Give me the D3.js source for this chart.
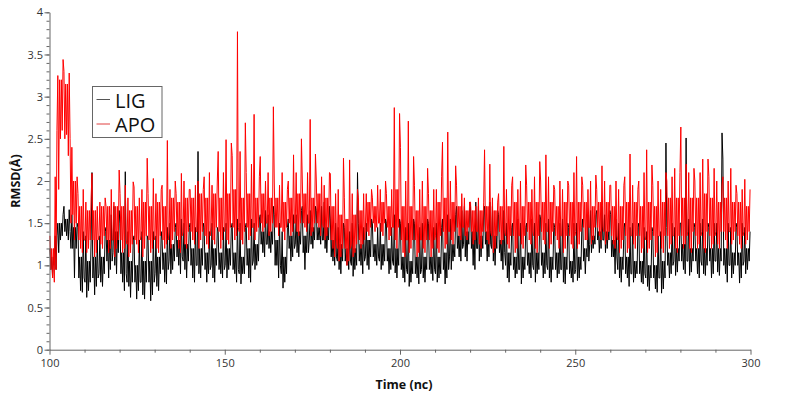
<!DOCTYPE html>
<html>
<head>
<meta charset="utf-8">
<script src="https://cdn.jsdelivr.net/npm/d3@7"></script>
<style>
html,body{margin:0;padding:0;background:#fff;}
svg{display:block;font-family:"Open Sans",sans-serif;}
.axis path,.axis line{stroke:#666;}
.axis text{fill:#333;font-size:11px;font-family:"Open Sans",sans-serif;}
</style>
</head>
<body>
<div id="chart"></div>
<script>
// per ns from 100 ns: upper and lower excursion
const tStart=100;
const apoHi=[
1.35,2.05,3.25,3.44,3.3,3.28,2.4,2.05,1.85,1.9,
1.75,1.8,2.09,1.7,1.75,1.8,1.7,1.9,1.75,2.13,
1.85,1.95,1.8,1.99,1.93,1.8,1.9,2.27,1.85,2.03,
1.85,1.9,1.95,2.48,1.9,2.0,1.85,2.09,2.0,1.9,
1.9,1.95,2.0,1.9,2.05,2.1,1.95,2.0,2.35,2.1,
2.49,2.45,2.3,3.77,2.35,2.69,2.1,2.2,2.79,2.05,
2.29,2.0,2.1,2.88,2.0,1.95,2.1,1.9,2.0,2.31,
2.1,2.5,2.0,2.1,2.73,2.32,2.0,2.05,1.95,2.1,
2.09,1.85,1.9,2.27,1.8,2.25,1.85,1.9,1.8,1.85,
1.85,1.9,1.8,1.95,1.9,2.0,1.85,1.9,2.87,2.8,
2.4,2.0,2.71,2.29,1.95,1.9,2.0,2.15,1.85,1.9,
1.9,2.05,2.46,2.58,2.0,2.18,1.95,1.85,1.8,1.75,
1.75,1.7,1.8,1.75,2.37,2.2,1.8,1.75,1.85,2.41,
1.9,1.95,2.05,1.9,2.0,2.19,1.95,1.9,2.05,2.23,
2.0,2.31,2.05,1.95,1.9,2.0,1.9,2.0,1.95,2.1,
2.29,2.05,1.95,1.9,2.0,2.07,1.9,2.18,2.0,1.95,
1.95,2.0,1.9,1.95,2.05,2.32,1.95,1.9,2.0,2.1,
2.37,2.19,1.95,2.0,1.9,2.1,2.0,2.05,2.15,2.1,
2.64,2.2,2.1,2.15,2.0,2.1,2.26,2.26,2.05,2.15,
2.0,1.95,2.05,2.0,2.15,1.95,1.85,1.9,2.02,1.9
];
const apoLo=[
0.85,0.8,1.9,2.5,2.55,2.3,1.6,1.3,1.2,1.15,
1.15,1.2,1.1,1.15,1.25,1.2,1.15,1.2,1.1,1.2,
1.15,1.2,1.1,1.15,1.25,1.15,1.1,1.2,1.15,1.2,
1.2,1.15,1.2,1.25,1.2,1.3,1.2,1.15,1.25,1.2,
1.3,1.25,1.2,1.3,1.25,1.2,1.3,1.25,1.2,1.3,
1.3,1.25,1.3,1.35,1.3,1.25,1.3,1.35,1.3,1.4,
1.4,1.45,1.35,1.4,1.45,1.35,1.4,1.3,1.35,1.4,
1.4,1.35,1.45,1.4,1.35,1.4,1.45,1.35,1.3,1.35,
1.2,1.1,1.05,1.1,1.0,1.05,1.1,1.15,1.2,1.25,
1.4,1.35,1.4,1.45,1.4,1.35,1.3,1.35,1.3,1.2,
1.15,1.1,1.15,1.2,1.1,1.15,1.2,1.15,1.1,1.2,
1.2,1.15,1.2,1.25,1.3,1.25,1.35,1.3,1.35,1.3,
1.25,1.3,1.25,1.2,1.3,1.25,1.15,1.2,1.25,1.3,
1.25,1.2,1.15,1.2,1.25,1.2,1.3,1.25,1.2,1.15,
1.3,1.25,1.2,1.25,1.3,1.2,1.15,1.2,1.25,1.2,
1.2,1.25,1.3,1.3,1.25,1.3,1.35,1.3,1.25,1.3,
1.25,1.2,1.15,1.2,1.15,1.2,1.25,1.2,1.15,1.2,
1.15,1.2,1.1,1.15,1.2,1.15,1.2,1.25,1.2,1.15,
1.2,1.25,1.2,1.15,1.2,1.25,1.2,1.15,1.2,1.25,
1.25,1.2,1.3,1.2,1.25,1.3,1.25,1.2,1.25,1.3
];
const ligHi=[
1.2,1.35,1.5,1.6,1.7,1.66,1.6,1.5,1.45,1.4,
1.35,1.3,2.1,1.3,1.35,1.4,1.45,1.6,1.7,1.65,
1.5,2.11,1.4,1.3,1.35,1.3,1.4,1.35,1.3,1.4,
1.35,1.4,1.3,1.45,1.5,1.45,1.5,1.55,1.5,1.45,
1.5,1.45,2.35,1.5,1.45,1.4,1.5,1.45,1.4,1.45,
1.5,1.45,1.5,1.55,1.5,1.45,1.5,1.55,1.5,1.55,
1.6,1.65,1.6,1.7,1.6,1.5,1.4,1.45,1.55,1.6,
1.6,1.65,1.7,1.6,1.65,1.7,1.65,1.7,1.75,1.7,
1.55,1.5,1.45,1.5,1.45,1.4,1.5,2.1,1.5,1.45,
1.5,1.55,1.5,1.45,1.5,1.55,1.5,1.45,1.6,1.55,
1.5,1.45,1.5,1.55,1.5,1.45,1.5,1.55,1.5,1.45,
1.5,1.45,1.55,1.6,1.55,1.6,1.7,1.65,1.7,1.75,
1.7,1.75,1.7,1.65,1.7,1.75,1.7,1.65,1.6,1.65,
1.5,1.45,1.5,1.55,1.5,1.45,1.5,1.55,1.5,1.6,
1.55,1.5,1.55,1.5,1.45,1.5,1.55,1.5,1.45,1.5,
1.5,1.45,1.55,1.6,1.65,1.6,1.65,1.7,1.6,1.65,
1.6,1.55,1.5,1.45,1.5,1.45,1.5,1.45,1.5,1.45,
1.4,1.45,1.4,1.35,1.4,2.45,1.45,1.5,1.45,1.5,
1.5,2.51,1.55,1.5,1.45,1.5,1.55,1.5,1.45,1.5,
1.5,2.57,2.26,1.5,1.45,1.5,1.45,1.5,1.45,1.4
];
const ligLo=[
0.85,1.0,1.15,1.3,1.35,1.3,1.2,0.85,0.7,0.68,
0.62,0.7,0.65,0.75,0.8,0.75,0.85,0.95,1.0,0.9,
0.8,0.7,0.75,0.62,0.6,0.7,0.65,0.6,0.58,0.65,
0.75,0.7,0.8,0.78,0.9,0.95,1.0,0.9,0.95,0.85,
0.85,0.8,0.9,0.85,0.8,0.9,0.85,0.8,0.9,0.85,
0.85,0.95,0.9,0.8,0.78,0.9,0.85,0.8,0.95,1.0,
1.15,1.1,1.2,1.15,1.0,0.85,0.73,0.8,1.05,1.1,
1.15,1.1,0.95,1.15,1.25,1.2,1.3,1.25,1.2,1.15,
1.05,1.0,0.95,0.9,1.0,0.95,0.87,0.95,1.0,0.9,
1.0,0.95,1.05,1.0,0.95,1.0,0.9,0.95,0.91,0.85,
0.85,0.8,0.75,0.8,0.85,0.78,0.85,0.8,0.9,0.82,
0.8,0.85,0.78,0.85,0.95,1.05,1.1,1.05,1.1,1.05,
1.0,0.95,1.05,1.1,1.05,1.1,1.05,1.0,1.05,0.95,
0.85,0.8,0.85,0.9,0.78,0.85,0.9,0.85,0.8,0.9,
0.85,0.9,0.85,0.8,0.85,0.9,0.8,0.78,0.85,0.8,
0.82,0.85,0.9,1.1,1.15,1.2,1.15,1.2,1.15,1.2,
1.1,0.9,0.85,0.8,0.85,0.75,0.8,0.85,0.8,0.78,
0.75,0.7,0.72,0.68,0.67,0.72,0.85,0.9,0.88,0.92,
0.95,0.9,0.88,0.92,0.9,0.85,0.9,0.88,0.85,0.9,
0.92,0.88,0.9,0.8,0.85,0.9,0.79,0.85,0.9,0.95
];
// per 2 ns: top and bottom of the dense core of each trace
const apoCoreHi=[
1.2,3.2,3.15,2.0,1.7, 1.65,1.65,1.7,1.7,1.7,
1.7,1.65,1.7,1.75,1.7, 1.75,1.7,1.8,1.75,1.8,
1.8,1.85,1.8,1.85,1.8, 1.85,1.9,1.8,1.85,1.8,
1.85,1.8,1.8,1.75,1.8, 1.85,1.85,1.8,1.85,1.8,
1.7,1.6,1.55,1.6,1.65, 1.75,1.7,1.75,1.7,1.9,
1.7,1.7,1.65,1.7,1.65, 1.75,1.8,1.75,1.7,1.65,
1.65,1.65,1.7,1.65,1.7, 1.7,1.75,1.7,1.75,1.75,
1.75,1.75,1.7,1.75,1.75, 1.75,1.75,1.7,1.75,1.75,
1.7,1.7,1.75,1.75,1.7, 1.75,1.7,1.75,1.8,1.8,
1.8,1.8,1.8,1.85,1.8, 1.75,1.8,1.75,1.75,1.7
];
const apoCoreLo=[
0.95,2.6,2.5,1.5,1.3, 1.3,1.3,1.35,1.3,1.3,
1.3,1.25,1.3,1.35,1.3, 1.35,1.3,1.4,1.35,1.4,
1.4,1.4,1.35,1.45,1.4, 1.45,1.45,1.4,1.45,1.45,
1.5,1.5,1.45,1.45,1.5, 1.5,1.5,1.5,1.5,1.45,
1.3,1.2,1.2,1.25,1.3, 1.45,1.5,1.5,1.45,1.45,
1.3,1.3,1.3,1.3,1.3, 1.35,1.4,1.4,1.45,1.45,
1.4,1.4,1.4,1.35,1.4, 1.35,1.35,1.35,1.4,1.35,
1.4,1.4,1.35,1.35,1.35, 1.4,1.45,1.45,1.45,1.4,
1.35,1.3,1.35,1.35,1.35, 1.3,1.35,1.35,1.35,1.35,
1.35,1.4,1.35,1.4,1.35, 1.4,1.4,1.4,1.35,1.4
];
const ligCoreHi=[
1.1,1.5,1.55,1.45,1.1, 1.05,1.1,1.1,1.3,1.4,
1.15,1.05,1.0,1.05,1.05, 1.1,1.15,1.25,1.3,1.25,
1.2,1.2,1.15,1.2,1.15, 1.2,1.15,1.1,1.2,1.25,
1.4,1.4,1.3,1.1,1.35, 1.4,1.35,1.45,1.45,1.45,
1.3,1.25,1.2,1.2,1.25, 1.3,1.25,1.25,1.2,1.2,
1.1,1.05,1.1,1.1,1.1, 1.1,1.15,1.25,1.35,1.4,
1.4,1.35,1.4,1.35,1.3, 1.15,1.1,1.1,1.15,1.15,
1.15,1.1,1.15,1.1,1.05, 1.1,1.2,1.35,1.4,1.4,
1.3,1.1,1.1,1.05,1.05, 1.0,1.0,1.05,1.15,1.2,
1.25,1.2,1.2,1.2,1.2, 1.2,1.2,1.15,1.15,1.2
];
const ligCoreLo=[
0.95,1.35,1.4,1.2,0.85, 0.8,0.85,0.9,1.05,1.15,
0.9,0.8,0.8,0.8,0.8, 0.9,0.95,1.05,1.1,1.05,
1.0,1.0,0.95,1.0,0.95, 1.0,0.95,0.9,1.0,1.05,
1.25,1.25,1.0,0.9,1.2, 1.25,1.15,1.3,1.3,1.3,
1.1,1.05,1.05,1.0,1.05, 1.1,1.1,1.05,1.05,1.0,
0.95,0.9,0.9,0.95,0.95, 0.9,0.95,1.1,1.2,1.25,
1.2,1.2,1.25,1.2,1.15, 1.0,0.95,0.95,1.0,0.95,
1.0,0.95,0.95,0.95,0.9, 0.95,1.05,1.25,1.3,1.3,
1.1,0.95,0.9,0.9,0.9, 0.85,0.85,0.85,1.0,1.05,
1.05,1.05,1.05,1.0,1.05, 1.05,1.0,1.0,1.0,1.05
];
const xTicks=[100,150,200,250,300];
const xMinor=[110,120,130,140,160,170,180,190,210,220,230,240,260,270,280,290];
const yTicks=[0,0.5,1,1.5,2,2.5,3,3.5,4];
const yMinor=d3.range(0,41).map(d=>d/10);
const seriesNames=["LIG","APO"];
const seriesColors=["#000000","#ff0000"];
const legendColors=["#555555","#e04040"];

const W=800,H=396;
const svg=d3.select("#chart").append("svg").attr("width",W).attr("height",H);

const x=d3.scaleLinear().domain([100,300]).range([49.5,750.5]);
const y=d3.scaleLinear().domain([0,4]).range([349.7,12.3]);

// four samples per ns; the visiting order of the four read values rotates
const orders=[[0,1,2,3],[2,3,0,1],[1,0,3,2],[3,2,1,0]];
function toPoints(hi,lo,cHi,cLo){
  const pts=[];
  hi.forEach((v,i)=>{
    const k=Math.floor(i/2);
    const vals=[v,cLo[k],cHi[k],lo[i]];
    orders[i%4].forEach((o,j)=>{
      pts.push([tStart+i+0.125+j*0.25,vals[o]]);
    });
  });
  return pts;
}

const line=d3.line().x(d=>x(d[0])).y(d=>y(d[1]));
const series=[
  toPoints(ligHi,ligLo,ligCoreHi,ligCoreLo),
  toPoints(apoHi,apoLo,apoCoreHi,apoCoreLo)
];

svg.selectAll("path.trace").data(series).enter().append("path")
  .attr("class","trace")
  .attr("d",line)
  .attr("fill","none")
  .attr("stroke",(d,i)=>seriesColors[i])
  .attr("stroke-width",1)
  .attr("stroke-linejoin","round");

// axes
svg.append("g").attr("class","axis").attr("transform","translate(0,349.7)")
  .call(d3.axisBottom(x).tickValues(xMinor).tickSize(3).tickFormat(""))
  .call(g=>g.select(".domain").remove());
svg.append("g").attr("class","axis").attr("transform","translate(0,349.7)")
  .call(d3.axisBottom(x).tickValues(xTicks).tickSize(5).tickPadding(5).tickSizeOuter(0).tickFormat(d=>String(d)));

svg.append("g").attr("class","axis").attr("transform","translate(49.5,0)")
  .call(d3.axisLeft(y).tickValues(yMinor).tickSize(3).tickFormat(""))
  .call(g=>g.select(".domain").remove());
svg.append("g").attr("class","axis").attr("transform","translate(49.5,0)")
  .call(d3.axisLeft(y).tickValues(yTicks).tickSize(5).tickPadding(1.5).tickSizeOuter(0).tickFormat(d=>String(d)));

// axis titles
svg.append("text")
  .attr("x",404).attr("y",388.5)
  .attr("text-anchor","middle")
  .attr("font-size",12.5).attr("font-weight","bold").attr("fill","#111")
  .text("Time (nc)");

svg.append("text")
  .attr("transform","translate(19.5,181) rotate(-90)")
  .attr("text-anchor","middle")
  .attr("font-size",12.5).attr("font-weight","bold").attr("fill","#111")
  .text("RMSD(Å)");

// legend
const lg=svg.append("g");
lg.append("rect")
  .attr("x",92.5).attr("y",86.5).attr("width",69.5).attr("height",51)
  .attr("fill","#fff").attr("stroke","#666").attr("stroke-width",1);
seriesNames.forEach((name,i)=>{
  lg.append("line")
    .attr("x1",96.5).attr("x2",110).attr("y1",99.5+i*24.5).attr("y2",99.5+i*24.5)
    .attr("stroke",legendColors[i]).attr("stroke-width",1);
  lg.append("text")
    .attr("x",115).attr("y",108.3+i*24)
    .attr("font-size",20).attr("fill","#111")
    .text(name);
});
</script>
</body>
</html>
